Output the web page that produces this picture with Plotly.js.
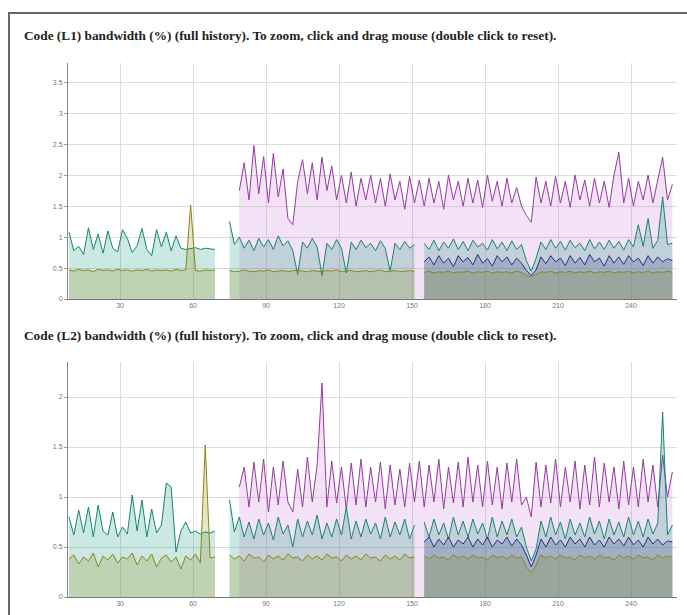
<!DOCTYPE html>
<html>
<head>
<meta charset="utf-8">
<script src="https://cdn.plot.ly/plotly-3.0.1.min.js"></script>
<style>
  html, body { margin: 0; padding: 0; background: #fff; }
  #wrap { position: relative; width: 687px; height: 615px; }
  #chart { position: absolute; left: 0; top: 0; width: 687px; height: 615px; }
  #frame { position: absolute; left: 8px; top: 12px; width: 679px; height: 603px;
           border-left: 2px solid #666; border-top: 2px solid #666; pointer-events: none; box-sizing: border-box; }
</style>
</head>
<body>
<div id="wrap">
  <div id="chart"></div>
  <div id="frame"></div>
</div>
<script>
// ---- data (x: run index starting at X0, step DX) ----
const X0 = 9;
const DX = 2;

const titleTop = "Code (L1) bandwidth (%) (full history). To zoom, click and drag mouse (double click to reset).";
const titleBottom = "Code (L2) bandwidth (%) (full history). To zoom, click and drag mouse (double click to reset).";

const xTickVals = [30, 60, 90, 120, 150, 180, 210, 240];
const yTickValsTop = [0, 0.5, 1, 1.5, 2, 2.5, 3, 3.5];
const yTickValsBottom = [0, 0.5, 1, 1.5, 2];

// ---------- L1 (top) ----------
const l1Purple = [
  null,null,null,null,null,null,null,null,null,null,
  null,null,null,null,null,null,null,null,null,null,
  null,null,null,null,null,null,null,null,null,null,
  null,null,null,null,null,
  1.75,2.2,1.6,2.48,1.7,2.3,1.55,2.35,1.65,2.1,
  1.3,1.2,1.9,2.25,1.7,2.2,1.6,2.29,1.75,2.15,
  1.6,2.0,1.55,2.05,1.5,1.95,1.6,2.0,1.55,1.95,
  1.5,2.02,1.6,1.9,1.45,1.98,1.55,1.92,1.5,1.95,
  1.55,1.9,1.45,2.0,1.6,1.9,1.5,1.95,1.55,1.92,
  1.48,2.0,1.58,1.9,1.5,1.95,1.55,1.8,1.5,1.35,
  1.24,1.97,1.55,1.9,1.5,1.98,1.55,1.9,1.48,2.0,
  1.6,1.92,1.5,1.95,1.55,1.9,1.48,2.0,2.37,1.55,
  1.95,1.5,1.9,1.6,2.0,1.55,1.92,2.29,1.6,1.85
];
const l1Teal = [
  1.08,0.78,0.85,0.72,1.15,0.8,1.05,0.74,1.1,0.82,
  0.76,1.12,0.98,0.75,0.86,1.14,0.8,0.7,1.12,0.84,
  1.08,0.78,1.02,0.82,0.80,0.81,0.83,0.80,0.82,0.81,
  0.80,null,null,
  1.25,0.88,1.0,0.82,0.95,0.78,0.98,0.84,0.96,0.8,
  1.02,0.86,0.94,0.78,0.4,0.92,0.82,0.98,0.84,0.38,
  0.9,0.8,0.96,0.82,0.42,0.92,0.8,0.95,0.83,0.9,
  0.78,0.94,0.82,0.45,0.9,0.8,0.93,0.82,0.88,
  null,
  0.9,0.8,0.95,0.78,0.92,0.82,0.97,0.8,0.93,0.78,
  0.95,0.84,0.9,0.79,0.96,0.81,0.92,0.78,0.94,0.8,
  0.88,0.62,0.45,0.66,0.92,0.8,0.96,0.82,0.93,0.79,
  0.95,0.83,0.9,0.78,0.96,0.81,0.92,0.8,0.95,0.82,
  0.93,0.79,0.96,0.84,1.2,0.85,1.3,0.82,0.95,1.65,
  0.88,0.9
];
const l1Blue = [
  null,null,null,null,null,null,null,null,null,null,
  null,null,null,null,null,null,null,null,null,null,
  null,null,null,null,null,null,null,null,null,null,
  null,null,null,null,null,null,null,null,null,null,
  null,null,null,null,null,null,null,null,null,null,
  null,null,null,null,null,null,null,null,null,null,
  null,null,null,null,null,null,null,null,null,null,
  null,null,null,
  0.6,0.68,0.55,0.7,0.58,0.66,0.52,0.7,0.6,0.67,
  0.55,0.72,0.58,0.65,0.53,0.7,0.6,0.68,0.55,0.66,
  0.58,0.46,0.38,0.47,0.68,0.57,0.7,0.6,0.66,0.54,
  0.7,0.58,0.67,0.55,0.72,0.6,0.66,0.53,0.7,0.58,
  0.68,0.56,0.7,0.6,0.66,0.54,0.7,0.58,0.68,0.6,
  0.65,0.62
];
const l1Olive = [
  0.47,0.45,0.48,0.46,0.47,0.44,0.48,0.46,0.47,0.45,
  0.48,0.46,0.47,0.45,0.47,0.46,0.48,0.45,0.47,0.46,
  0.47,0.45,0.48,0.46,0.47,1.52,0.46,0.45,0.47,0.46,
  0.47,null,null,
  0.46,0.44,0.45,0.47,0.45,0.44,0.46,0.45,0.47,0.44,
  0.45,0.46,0.44,0.45,0.47,0.45,0.44,0.46,0.45,0.44,
  0.46,0.45,0.47,0.44,0.45,0.46,0.44,0.45,0.46,0.44,
  0.45,0.47,0.44,0.45,0.46,0.44,0.45,0.46,0.44,
  null,
  0.43,0.45,0.42,0.44,0.43,0.45,0.42,0.44,0.43,0.45,
  0.42,0.44,0.43,0.45,0.42,0.44,0.43,0.44,0.42,0.45,
  0.43,0.38,0.36,0.40,0.44,0.43,0.45,0.42,0.44,0.43,
  0.45,0.42,0.44,0.43,0.45,0.42,0.44,0.43,0.45,0.42,
  0.44,0.43,0.45,0.42,0.44,0.43,0.45,0.42,0.44,0.43,
  0.45,0.43
];

// ---------- L2 (bottom) ----------
const l2Purple = [
  null,null,null,null,null,null,null,null,null,null,
  null,null,null,null,null,null,null,null,null,null,
  null,null,null,null,null,null,null,null,null,null,
  null,null,null,null,null,
  1.1,1.3,0.9,1.35,0.95,1.38,0.85,1.3,0.92,1.36,
  0.95,0.85,1.28,0.9,1.4,0.95,1.32,2.14,0.9,1.36,
  0.94,1.3,0.88,1.34,0.92,1.38,0.9,1.3,0.95,1.35,
  0.88,1.32,0.92,1.28,0.9,1.34,0.95,1.36,0.9,1.32,
  0.95,1.38,0.88,1.3,0.94,1.35,0.9,1.4,0.95,1.32,
  0.9,1.36,0.92,1.3,0.88,1.34,0.95,1.38,0.92,1.0,
  0.8,1.35,0.9,1.32,0.94,1.38,0.9,1.3,0.95,1.36,
  0.88,1.32,0.92,1.4,0.9,1.34,0.95,1.3,0.88,1.36,
  0.92,1.3,0.9,1.38,0.95,1.32,0.9,1.42,1.0,1.25
];
const l2Teal = [
  0.8,0.62,0.87,0.64,0.9,0.6,0.92,0.66,0.62,0.85,
  0.6,0.7,0.63,1.02,0.66,0.97,0.6,0.88,0.64,0.72,
  1.14,1.1,0.45,0.66,0.75,0.64,0.66,0.63,0.65,0.64,
  0.66,null,null,
  0.97,0.65,0.8,0.6,0.75,0.58,0.78,0.62,0.74,0.57,
  0.8,0.63,0.72,0.5,0.78,0.6,0.76,0.62,0.82,0.58,
  0.74,0.6,0.78,0.62,0.9,0.58,0.76,0.6,0.78,0.63,
  0.74,0.58,0.8,0.6,0.75,0.62,0.78,0.58,0.72,
  null,
  0.75,0.6,0.78,0.62,0.74,0.58,0.8,0.62,0.76,0.6,
  0.78,0.63,0.74,0.58,0.8,0.6,0.76,0.62,0.78,0.6,
  0.7,0.5,0.36,0.48,0.76,0.6,0.8,0.62,0.75,0.58,
  0.78,0.62,0.74,0.6,0.8,0.63,0.76,0.58,0.78,0.62,
  0.75,0.6,0.8,0.62,0.76,0.6,0.78,0.63,0.74,1.85,
  0.62,0.72
];
const l2Blue = [
  null,null,null,null,null,null,null,null,null,null,
  null,null,null,null,null,null,null,null,null,null,
  null,null,null,null,null,null,null,null,null,null,
  null,null,null,null,null,null,null,null,null,null,
  null,null,null,null,null,null,null,null,null,null,
  null,null,null,null,null,null,null,null,null,null,
  null,null,null,null,null,null,null,null,null,null,
  null,null,null,
  0.55,0.6,0.5,0.58,0.52,0.6,0.5,0.57,0.53,0.6,
  0.5,0.58,0.52,0.6,0.5,0.57,0.53,0.6,0.51,0.58,
  0.52,0.42,0.3,0.42,0.58,0.5,0.6,0.52,0.57,0.5,
  0.6,0.53,0.58,0.5,0.6,0.52,0.57,0.5,0.6,0.53,
  0.58,0.51,0.6,0.52,0.57,0.5,0.6,0.53,0.58,0.52,
  0.56,0.55
];
const l2Olive = [
  0.38,0.42,0.33,0.40,0.36,0.44,0.30,0.41,0.37,0.43,
  0.34,0.40,0.38,0.44,0.32,0.41,0.36,0.43,0.30,0.39,
  0.42,0.35,0.40,0.28,0.41,0.37,0.43,0.34,1.52,0.39,
  0.40,null,null,
  0.42,0.38,0.41,0.36,0.43,0.39,0.40,0.35,0.42,0.38,
  0.41,0.37,0.43,0.39,0.40,0.36,0.42,0.38,0.41,0.37,
  0.43,0.39,0.40,0.36,0.42,0.38,0.41,0.37,0.43,0.39,
  0.40,0.36,0.42,0.38,0.41,0.37,0.43,0.39,0.40,
  null,
  0.41,0.38,0.42,0.39,0.40,0.37,0.42,0.39,0.41,0.38,
  0.42,0.39,0.40,0.37,0.42,0.39,0.41,0.38,0.42,0.39,
  0.40,0.30,0.24,0.32,0.42,0.39,0.41,0.38,0.42,0.39,
  0.40,0.37,0.42,0.39,0.41,0.38,0.42,0.39,0.40,0.37,
  0.42,0.39,0.41,0.38,0.42,0.39,0.40,0.37,0.42,0.39,
  0.41,0.40
];

// ---- styles ----
const S = {
  purple: { line: '#963aa2', fill: 'rgba(190,90,200,0.18)' },
  teal:   { line: '#12876f', fill: 'rgba(0,140,110,0.20)' },
  blue:   { line: '#2c2c8a', fill: 'rgba(60,70,130,0.24)' },
  olive:  { line: '#8a8614', fill: 'rgba(128,128,0,0.20)' }
};

// split a series at its gaps so each run is filled on its own
function runs(arr) {
  const out = [];
  let start = -1;
  for (let i = 0; i <= arr.length; i++) {
    const v = i < arr.length ? arr[i] : null;
    if (v !== null && start < 0) start = i;
    if (v === null && start >= 0) { out.push({ start: start, vals: arr.slice(start, i) }); start = -1; }
  }
  return out;
}

const data = [];
function addSeries(arr, st, xa, ya) {
  runs(arr).forEach(function (r) {
    data.push({ type: 'scatter', mode: 'lines', x0: X0 + DX * r.start, dx: DX, y: r.vals,
      xaxis: xa, yaxis: ya, fill: 'tozeroy', fillcolor: st.fill,
      line: { color: st.line, width: 1 }, hoverinfo: 'skip' });
  });
}
addSeries(l1Purple, S.purple, 'x', 'y');
addSeries(l1Teal, S.teal, 'x', 'y');
addSeries(l1Blue, S.blue, 'x', 'y');
addSeries(l1Olive, S.olive, 'x', 'y');
addSeries(l2Purple, S.purple, 'x2', 'y2');
addSeries(l2Teal, S.teal, 'x2', 'y2');
addSeries(l2Blue, S.blue, 'x2', 'y2');
addSeries(l2Olive, S.olive, 'x2', 'y2');

const tickFont = { family: 'Liberation Sans, Arial, sans-serif', size: 7, color: '#777' };
function xax(anchor) {
  return { anchor: anchor, range: [8.6, 258.9], tickvals: xTickVals, showgrid: true,
    gridcolor: '#dcdcdc', gridwidth: 1, showline: true, linecolor: '#777', linewidth: 1,
    ticks: '', tickfont: tickFont, zeroline: false, fixedrange: true };
}
function yax(anchor, domain, range, tv) {
  return { anchor: anchor, domain: domain, range: range, tickvals: tv, showgrid: true,
    gridcolor: '#dcdcdc', gridwidth: 1, showline: true, linecolor: '#888', linewidth: 1,
    ticks: 'outside', ticklen: 3, tickcolor: '#999', tickfont: tickFont, zeroline: false,
    fixedrange: true };
}

const titleFont = { family: 'Liberation Serif, Times New Roman, serif', size: 13.3, color: '#222', weight: 'bold' };

const layout = {
  width: 687, height: 615,
  margin: { l: 68, r: 10, t: 63, b: 18 },
  paper_bgcolor: '#fff', plot_bgcolor: '#fff',
  showlegend: false,
  xaxis: xax('y'),
  yaxis: yax('x', [0.558, 1], [0, 3.81], yTickValsTop),
  xaxis2: xax('y2'),
  yaxis2: yax('x2', [0, 0.44], [0, 2.35], yTickValsBottom),
  annotations: [
    { xref: 'paper', yref: 'paper', x: -0.0755, y: 1.0524, xanchor: 'left', yanchor: 'middle',
      text: '<b>' + titleTop + '</b>', showarrow: false, font: titleFont },
    { xref: 'paper', yref: 'paper', x: -0.0755, y: 0.4888, xanchor: 'left', yanchor: 'middle',
      text: '<b>' + titleBottom + '</b>', showarrow: false, font: titleFont }
  ]
};

Plotly.newPlot('chart', data, layout, { displayModeBar: false, staticPlot: true });
</script>
</body>
</html>
